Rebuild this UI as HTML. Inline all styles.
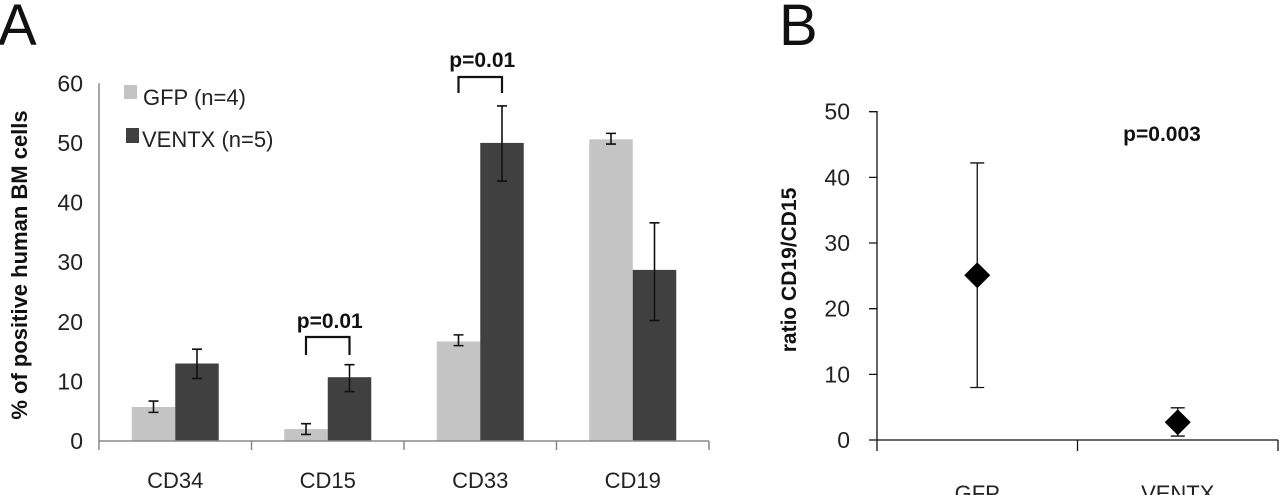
<!DOCTYPE html>
<html><head><meta charset="utf-8"><style>
body{margin:0;background:#fff;width:1280px;height:495px;overflow:hidden}
svg{display:block;font-family:"Liberation Sans","DejaVu Sans",sans-serif}
</style></head><body>
<svg id="chart" width="1280" height="495"></svg>
<script>
const categories=["CD34","CD15","CD33","CD19"];
const gfpVals=[5.7,2.0,16.7,50.6];
const gfpErrLo=[4.8,1.1,16.0,49.8];
const gfpErrHi=[6.7,2.9,17.8,51.6];
const ventxVals=[13.0,10.7,50.0,28.7];
const ventxErrLo=[10.5,8.3,43.6,20.2];
const ventxErrHi=[15.4,12.8,56.2,36.6];
const aTicks=[0,10,20,30,40,50,60];
const groupsB=["GFP","VENTX"];
const ratioVals=[25.1,2.7];
const ratioLo=[8.0,0.6];
const ratioHi=[42.2,4.9];
const bTicks=[0,10,20,30,40,50];

const NS="http://www.w3.org/2000/svg";
const svg=document.getElementById('chart');
function mk(t,a,txt){const e=document.createElementNS(NS,t);for(const k in a)e.setAttribute(k,a[k]);if(txt!==undefined)e.textContent=txt;svg.appendChild(e);return e;}

const ax0=99, ax1=709, ay0=441, ayTop=83.3, aMax=60;
const ya=v=>ay0-(v/aMax)*(ay0-ayTop);
const bandW=(ax1-ax0)/categories.length;
const xa=i=>ax0+bandW*(i+0.5);
const barW=43.5;

let e=mk('text',{x:-2,y:45,'font-size':58,fill:'#111'},'A');



aTicks.forEach(t=>{
 const l=mk('text',{x:83,y:ya(t)+8,'font-size':23,'text-anchor':'end',fill:'#222'},String(t));
 
 
});
e=mk('text',{transform:'translate(27,265) rotate(-90)','font-size':22,'font-weight':'bold','text-anchor':'middle',fill:'#111'},'% of positive human BM cells');



categories.forEach((c,i)=>{
 const cx=xa(i);
 let r=mk('rect',{x:cx-barW,y:ya(gfpVals[i]),width:barW,height:ay0-ya(gfpVals[i]),fill:'#c4c4c4'});
 
 
 r=mk('rect',{x:cx,y:ya(ventxVals[i]),width:barW,height:ay0-ya(ventxVals[i]),fill:'#404040'});
 
 
 [[cx-barW/2,gfpErrLo[i],gfpErrHi[i]],[cx+barW/2,ventxErrLo[i],ventxErrHi[i]]].forEach(([x,lo,hi])=>{
  const g=mk('path',{d:`M${x},${ya(lo)}V${ya(hi)}M${x-5},${ya(lo)}H${x+5}M${x-5},${ya(hi)}H${x+5}`,stroke:'#111','stroke-width':1.6,fill:'none'});
  
  
 });
 const t=mk('text',{x:cx,y:488,'font-size':22,'text-anchor':'middle',fill:'#222'},c);
 
 
});
e=mk('path',{d:`M${ax0},${ayTop}V${ay0}H${ax1}`+categories.map((c,i)=>`M${ax0+bandW*(i+1)},${ay0}v9`).join('')+`M${ax0},${ay0}v9`,stroke:'#888','stroke-width':1.5,fill:'none'});



e=mk('rect',{x:124,y:85,width:13,height:14,fill:'#c4c4c4'});


e=mk('text',{x:143,y:105,'font-size':22,fill:'#222'},'GFP (n=4)');


e=mk('rect',{x:126,y:128,width:13,height:15,fill:'#404040'});


e=mk('text',{x:142,y:147,'font-size':22,fill:'#222'},'VENTX (n=5)');



[[1,337,355,328],[2,77,93,67]].forEach(([i,top,bot,ty])=>{
 const x1=xa(i)-barW/2, x2=xa(i)+barW/2;
 const b=mk('path',{d:`M${x1},${bot}V${top}H${x2}V${bot}`,stroke:'#111','stroke-width':2.2,fill:'none'});
 
 
 const t=mk('text',{x:xa(i)+2,y:ty,'font-size':21,'font-weight':'bold','text-anchor':'middle',fill:'#111'},'p=0.01');
 
 
});

const bx0=877, bx1=1278, by0=440, byTop=111.7, bMax=50;
const yb=v=>by0-(v/bMax)*(by0-byTop);
const bBand=(bx1-bx0)/groupsB.length;
const xb=i=>bx0+bBand*(i+0.5);

e=mk('text',{x:779,y:45,'font-size':58,fill:'#111'},'B');


bTicks.forEach(t=>{
 const l=mk('text',{x:850,y:yb(t)+8,'font-size':23,'text-anchor':'end',fill:'#222'},String(t));
 
 
});
e=mk('text',{transform:'translate(796,270) rotate(-90)','font-size':21,'font-weight':'bold','text-anchor':'middle',fill:'#111'},'ratio CD19/CD15');


e=mk('path',{d:`M${bx0-8},${byTop}H${bx0}V${by0}H${bx1}`+bTicks.map(t=>`M${bx0-8},${yb(t)}H${bx0}`).join('')+`M${bx0},${by0}v11M${bx0+bBand},${by0}v11M${bx1},${by0}v11`,stroke:'#111','stroke-width':1.3,fill:'none'});


groupsB.forEach((g,i)=>{
 const x=xb(i);
 const eb=mk('path',{d:`M${x},${yb(ratioLo[i])}V${yb(ratioHi[i])}M${x-7},${yb(ratioLo[i])}H${x+7}M${x-7},${yb(ratioHi[i])}H${x+7}`,stroke:'#111','stroke-width':1.3,fill:'none'});
 
 
 const y=yb(ratioVals[i]);
 const d=mk('path',{d:`M${x},${y-13}L${x+13},${y}L${x},${y+13}L${x-13},${y}Z`,fill:'#000'});
 
 
 const t=mk('text',{x:x,y:501,'font-size':22,'text-anchor':'middle',fill:'#222'},g);
 
 
});
e=mk('text',{x:1162,y:141,'font-size':21,'font-weight':'bold','text-anchor':'middle',fill:'#111'},'p=0.003');


</script>
</body></html>
